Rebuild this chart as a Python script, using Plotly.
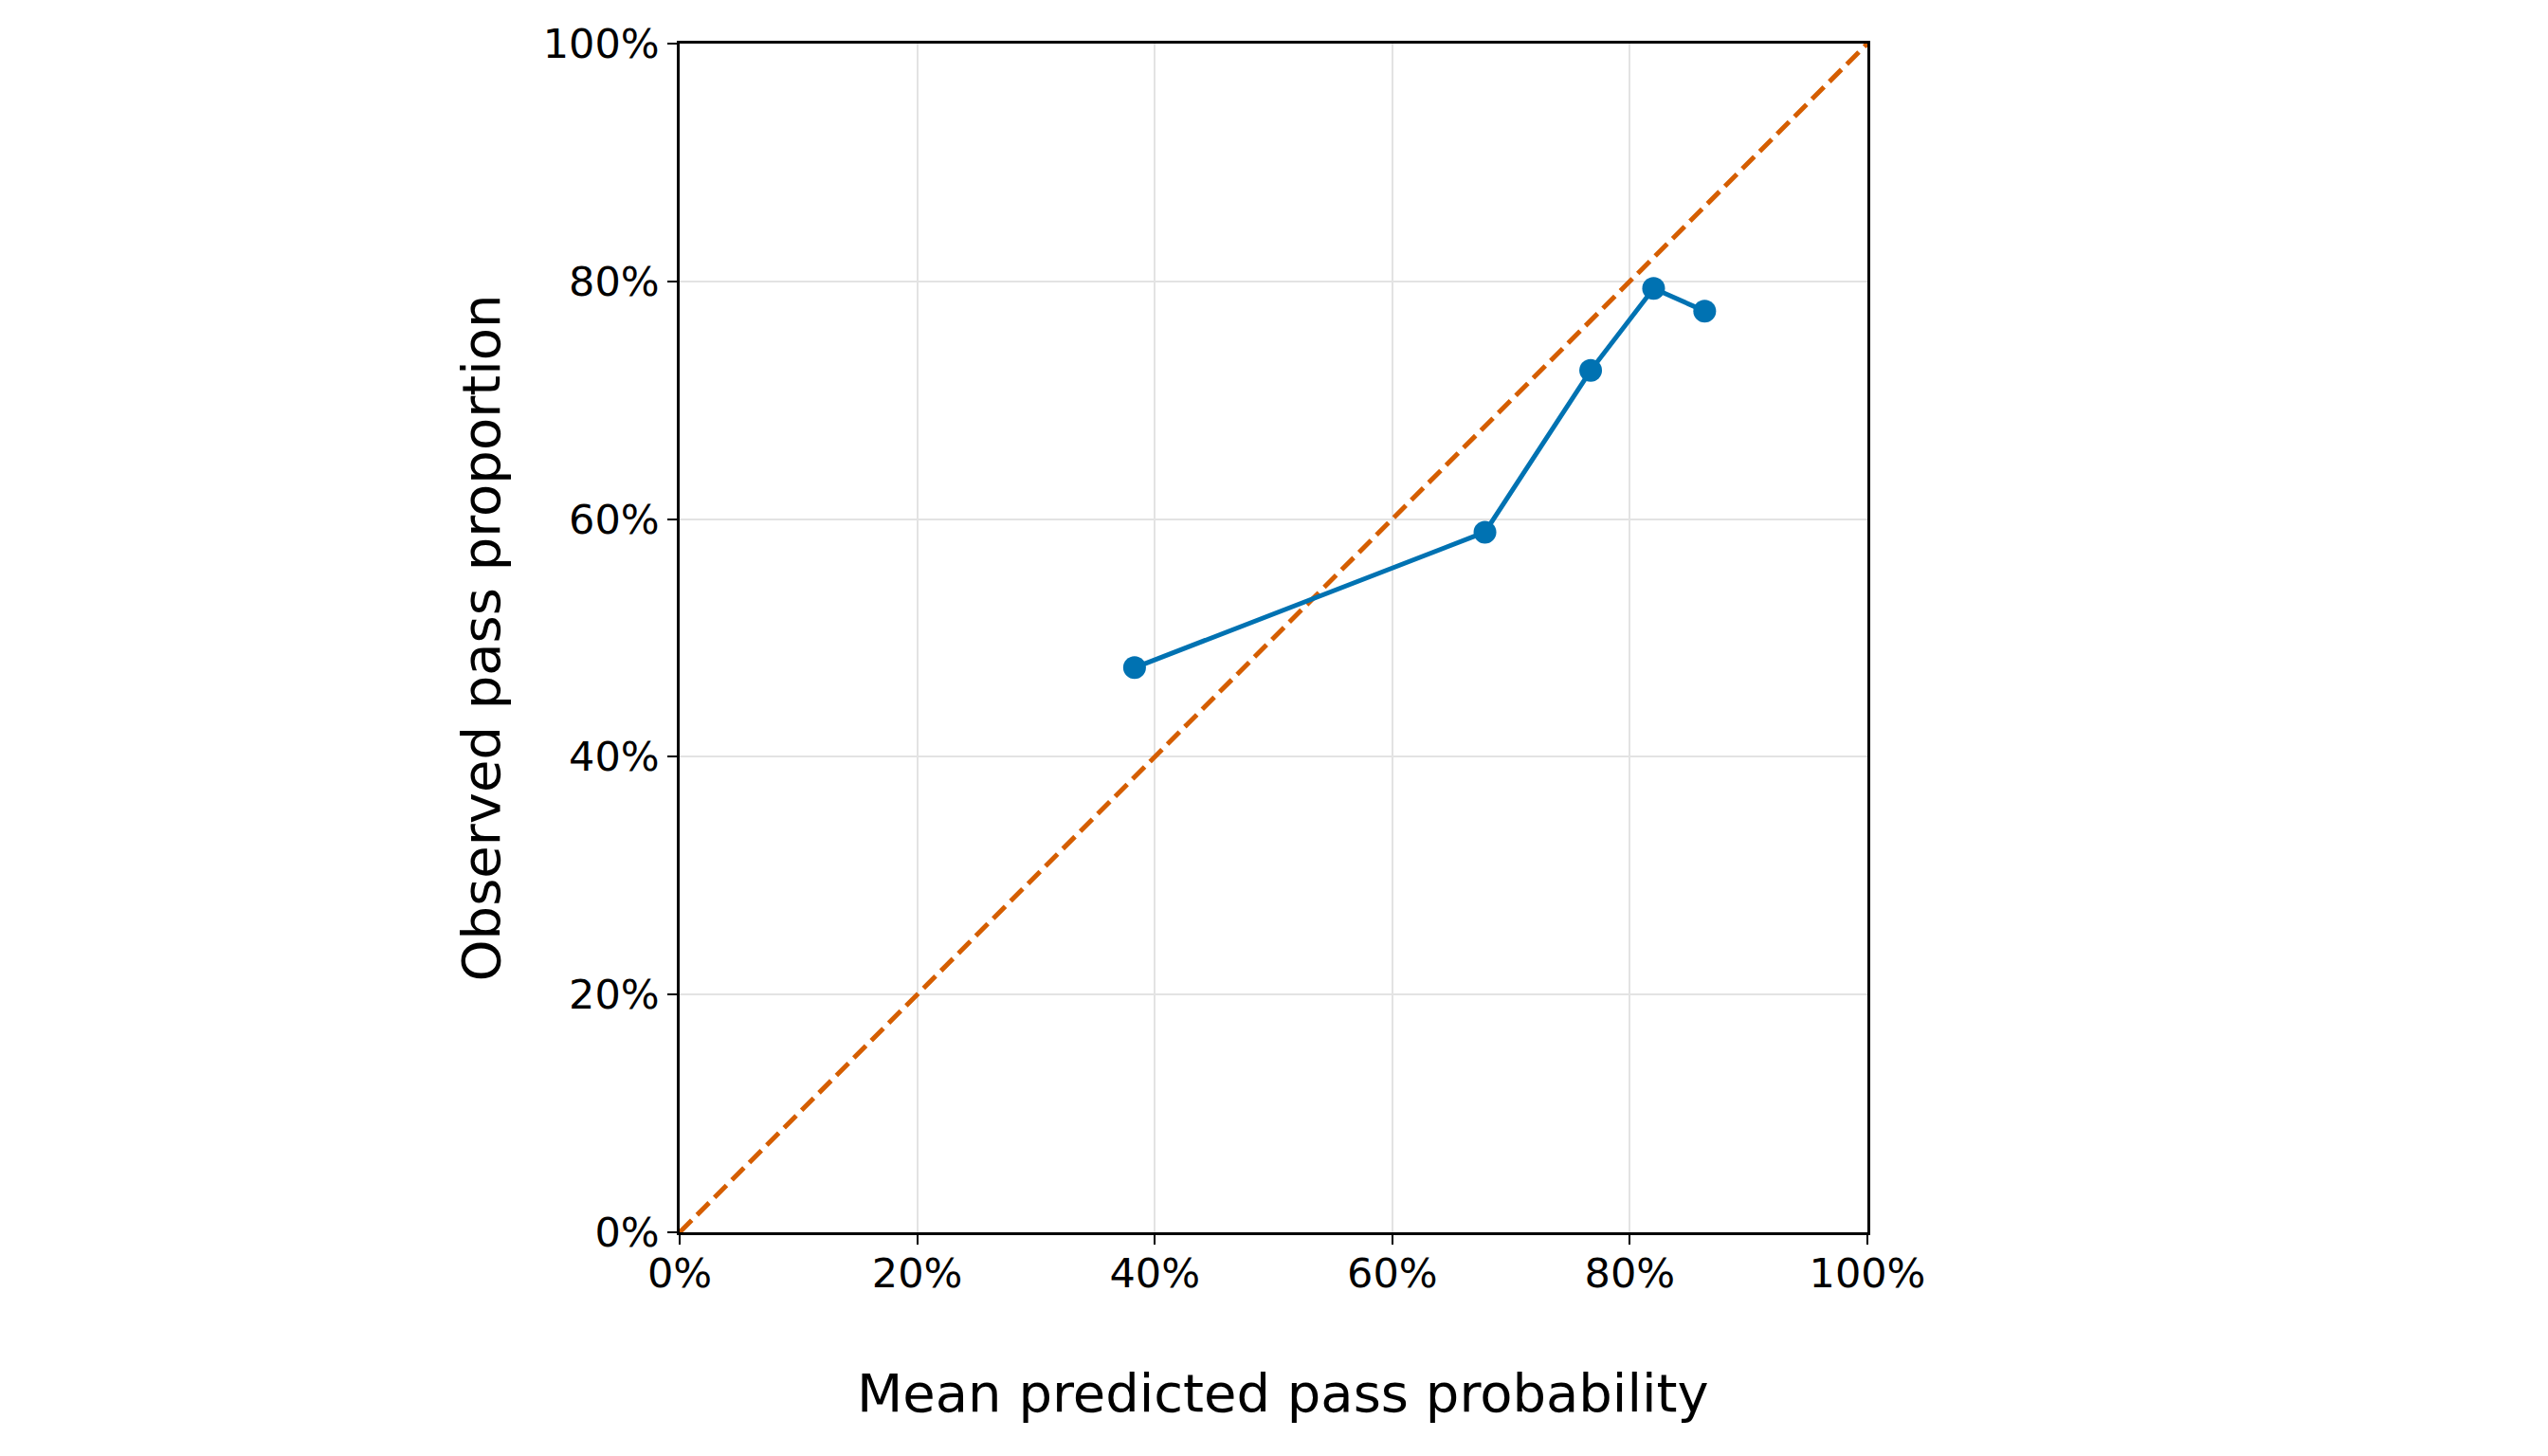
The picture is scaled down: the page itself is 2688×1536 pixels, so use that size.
import plotly.graph_objects as go

# calibration bins: mean predicted vs observed pass share
mean_predicted = [0.383, 0.678, 0.767, 0.820, 0.863]
observed_share = [0.475, 0.589, 0.725, 0.794, 0.775]

# perfect calibration reference
ref_x = [0.0, 1.0]
ref_y = [0.0, 1.0]

tick_vals = [0.0, 0.2, 0.4, 0.6, 0.8, 1.0]

FONT = "DejaVu Sans"
BLUE = "#0072B2"
ORANGE = "#D55E00"

fig = go.Figure()

fig.add_trace(go.Scatter(
    x=ref_x, y=ref_y,
    mode="lines",
    line=dict(color=ORANGE, width=5, dash="18px,8px"),
    showlegend=False,
))

fig.add_trace(go.Scatter(
    x=mean_predicted, y=observed_share,
    mode="lines+markers",
    line=dict(color=BLUE, width=5),
    marker=dict(color=BLUE, size=24),
    showlegend=False,
))

axis_common = dict(
    range=[0, 1],
    tickvals=tick_vals,
    tickformat=".0%",
    showgrid=True,
    gridcolor="#e3e3e3",
    gridwidth=2,
    zeroline=False,
    showline=True,
    linecolor="black",
    linewidth=2.5,
    mirror=True,
    ticks="outside",
    ticklen=10,
    tickwidth=2,
    tickcolor="black",
    tickfont=dict(family=FONT, size=43, color="black"),
    automargin=False,
)

fig.update_xaxes(**axis_common, ticklabelstandoff=-6)
fig.update_yaxes(
    **axis_common,
    title=dict(text="Observed pass proportion",
               font=dict(family=FONT, size=56, color="black"),
               standoff=28),
)

# x title as an annotation so it can sit a little right of centre
fig.add_annotation(
    text="Mean predicted pass probability",
    xref="paper", yref="paper", x=0.5, y=0,
    xanchor="center", yanchor="middle",
    xshift=10, yshift=-169,
    showarrow=False,
    font=dict(family=FONT, size=56, color="black"),
)

# page body adds an 8px offset, so margins are shifted to compensate
fig.update_layout(
    width=2688,
    height=1536,
    margin=dict(l=709, r=726, t=38, b=244),
    plot_bgcolor="white",
    paper_bgcolor="white",
    font=dict(family=FONT, color="black"),
)

fig.write_html("out.html")
